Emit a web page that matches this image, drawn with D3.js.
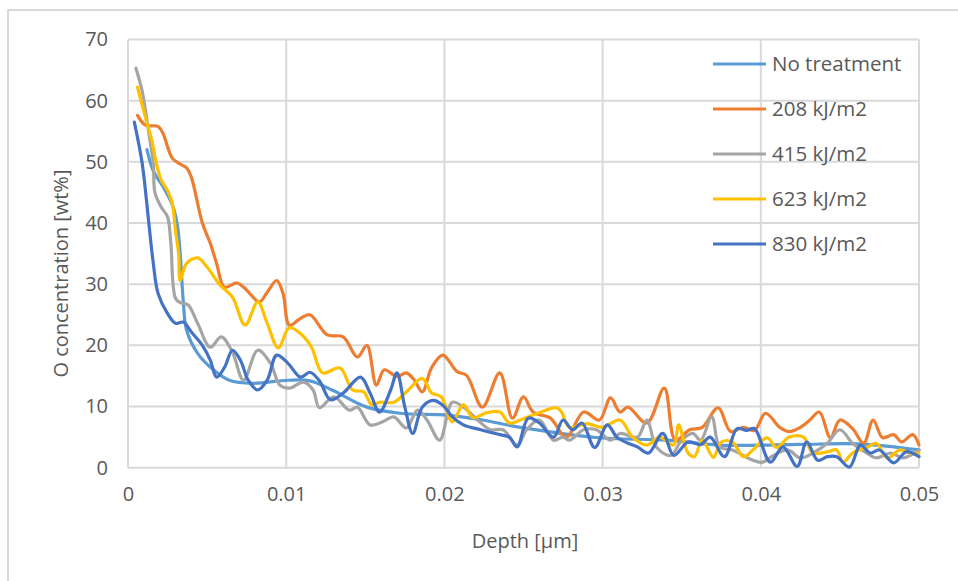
<!DOCTYPE html>
<html>
<head>
<meta charset="utf-8">
<script src="https://cdn.jsdelivr.net/npm/d3@7/dist/d3.min.js"></script>
<style>
  html, body { margin: 0; padding: 0; background: #fff; }
  svg { display: block; }
  text { font-family: "Open Sans", "Liberation Sans", sans-serif; fill: #595959; }
</style>
</head>
<body>
<svg id="chart" width="958" height="581"></svg>
<script>
// Oxygen depth profiles, one [depth µm, wt%] list per treatment dose
const seriesNames = ["No treatment", "208 kJ/m2", "415 kJ/m2", "623 kJ/m2", "830 kJ/m2"];
const seriesColors = ["#5B9BD5", "#ED7D31", "#A5A5A5", "#FFC000", "#4472C4"];

const noTreatment = [
  [0.0012,52],[0.0016,48.5],[0.0022,46],[0.0028,43],[0.0031,40],[0.0033,35],[0.0035,27],
  [0.0037,22.5],[0.0044,18.7],[0.0054,16],[0.0064,14.3],[0.0079,13.8],[0.0101,14.3],
  [0.0115,14.2],[0.0129,12.7],[0.0151,9.9],[0.0172,8.9],[0.0202,8.6],[0.0224,7.8],
  [0.0248,6.6],[0.0298,4.9],[0.0340,4.5],[0.0374,3.7],[0.0425,3.8],[0.0462,3.9],[0.05,2.9]
];

const dose208 = [
  [0.0006,57.6],[0.0011,56],[0.0019,55.8],[0.0022,54.7],[0.0028,50.6],[0.0032,49.8],
  [0.0037,49],[0.0040,47.5],[0.0047,40],[0.0052,36.7],[0.0056,33.4],[0.0061,29.5],
  [0.0069,30.2],[0.0074,29.3],[0.0083,27.1],[0.0088,28.7],[0.0094,30.6],[0.0098,28.5],
  [0.0102,23.3],[0.0109,24.4],[0.0115,25],[0.0126,21.7],[0.0136,21.4],[0.0145,18.1],
  [0.0151,20],[0.0157,13.5],[0.0162,16],[0.0170,14.9],[0.0176,15.5],[0.0181,14.3],
  [0.0186,12.4],[0.0192,16.4],[0.0199,18.4],[0.0208,15.7],[0.0214,15.1],[0.0224,9.9],
  [0.0235,15.5],[0.0243,8.1],[0.0250,11.6],[0.0256,9.1],[0.0267,8.1],[0.0277,5],
  [0.0288,9.1],[0.0298,7.8],[0.0305,11.4],[0.0311,9.1],[0.0316,9.9],[0.0328,7.3],
  [0.0339,13],[0.0346,4.5],[0.0355,6.2],[0.0363,6.6],[0.0373,9.8],[0.0381,5.9],
  [0.0389,6.6],[0.0396,6.1],[0.0403,8.9],[0.0412,6.6],[0.0418,5.9],[0.0425,6.6],
  [0.0431,7.8],[0.0437,9.1],[0.0444,4.9],[0.0450,7.8],[0.0458,6.4],[0.0465,4],
  [0.0471,7.8],[0.0477,4.9],[0.0484,5.4],[0.0489,4.2],[0.0496,5.4],[0.0500,3.7]
];

const dose415 = [
  [0.0005,65.3],[0.0009,61.5],[0.0013,55],[0.0016,49.7],[0.0017,45],[0.0021,42.6],
  [0.0025,41],[0.0027,37],[0.0030,27.7],[0.0033,27],[0.0038,26.6],[0.0044,23.6],
  [0.0052,19.7],[0.0059,21.4],[0.0066,18.9],[0.0073,14.3],[0.0082,19.2],[0.0090,17.1],
  [0.0096,13.5],[0.0102,13],[0.0111,14],[0.0117,12.7],[0.0121,9.8],[0.0130,11.6],
  [0.0140,9.4],[0.0145,9.9],[0.0153,7],[0.0161,7.5],[0.0168,8.3],[0.0176,6.5],
  [0.0183,9.4],[0.0189,7.8],[0.0197,4.5],[0.0205,10.7],[0.0212,9.9],[0.0221,7.8],
  [0.0229,6.2],[0.0237,6.2],[0.0246,3.7],[0.0252,6.2],[0.0260,7.8],[0.0269,4.5],
  [0.0275,5],[0.0279,4.5],[0.0288,6.2],[0.0296,6.2],[0.0305,4.5],[0.0311,5.6],
  [0.0322,5],[0.0328,7.8],[0.0334,3.4],[0.0343,2],[0.0350,4.5],[0.0357,5.6],
  [0.0362,4.5],[0.0369,8.3],[0.0374,3.4],[0.0382,2.9],[0.0395,1.2],[0.0401,0.9],
  [0.0408,2],[0.0417,2.9],[0.0425,1.6],[0.0433,2.4],[0.0442,4],[0.0450,6.2],
  [0.0458,4],[0.0467,2.4],[0.0473,1.6],[0.0482,2.4],[0.0490,1.6],[0.0500,2.9]
];

const dose623 = [
  [0.0006,62.2],[0.0011,57.3],[0.0015,53.5],[0.0018,49.7],[0.0021,47],[0.0025,45.3],
  [0.0028,43.2],[0.0030,38.8],[0.0032,35],[0.0033,30.6],[0.0037,33.4],[0.0044,34.3],
  [0.0050,32.8],[0.0058,29.9],[0.0066,27.9],[0.0074,23.3],[0.0082,27.1],[0.0088,23.6],
  [0.0095,19.6],[0.0102,22.9],[0.0110,21.7],[0.0116,19.7],[0.0123,15.5],[0.0134,16.3],
  [0.0142,12.7],[0.0149,12.4],[0.0154,10.3],[0.0159,10.7],[0.0168,10.7],[0.0176,12.4],
  [0.0186,14.6],[0.0192,12.2],[0.0198,11.6],[0.0205,7.5],[0.0212,10.3],[0.0218,8.2],
  [0.0227,9],[0.0235,9.1],[0.0241,7.3],[0.0248,7.8],[0.0259,8.9],[0.0271,9.8],
  [0.0274,9.1],[0.0279,6.6],[0.0290,7.2],[0.0300,6.6],[0.0311,7.8],[0.0319,5],
  [0.0328,3.7],[0.0336,5],[0.0345,3.7],[0.0348,7],[0.0354,2.4],[0.0358,1.8],
  [0.0363,4.5],[0.0370,1.7],[0.0375,4.2],[0.0382,4.2],[0.0389,1.8],[0.0395,2.9],
  [0.0404,4.9],[0.0410,3.3],[0.0418,5],[0.0427,5],[0.0433,2.4],[0.0442,2.6],
  [0.0448,2.9],[0.0452,0.9],[0.0458,2.4],[0.0467,3.3],[0.0473,4],[0.0480,1.6],
  [0.0488,2.9],[0.0494,2.4],[0.0500,2.4]
];

const dose830 = [
  [0.0004,56.5],[0.0009,49.7],[0.0013,40.4],[0.0016,33.4],[0.0019,28.5],[0.0025,25.2],
  [0.0030,23.6],[0.0035,23.8],[0.0040,22.2],[0.0047,20],[0.0052,17.6],[0.0056,14.8],
  [0.0061,16.4],[0.0066,19.2],[0.0071,17.6],[0.0076,14.3],[0.0082,12.7],[0.0088,14.3],
  [0.0094,18.4],[0.0101,17.1],[0.0109,14.8],[0.0115,15.6],[0.0121,14.2],[0.0128,11.1],
  [0.0136,12.2],[0.0147,14.8],[0.0153,12.2],[0.0159,9.1],[0.0166,12.7],[0.0170,15.5],
  [0.0175,9.9],[0.0180,5.6],[0.0186,9.9],[0.0193,11],[0.0199,10.2],[0.0205,8.3],
  [0.0212,7],[0.0223,6.2],[0.0235,5.4],[0.0241,5],[0.0246,3.4],[0.0253,8.1],
  [0.0260,7.3],[0.0269,5],[0.0275,7.8],[0.0281,6.2],[0.0287,7.3],[0.0295,3.3],
  [0.0303,7],[0.0309,5],[0.0316,4],[0.0322,3.4],[0.0329,2.4],[0.0338,5.6],
  [0.0345,2],[0.0354,4.2],[0.0362,3.8],[0.0368,5],[0.0377,1.8],[0.0385,6.4],
  [0.0391,6.1],[0.0396,6.4],[0.0406,0.9],[0.0414,3.4],[0.0423,0.2],[0.0429,4.2],
  [0.0436,1.2],[0.0442,1.8],[0.0448,1.8],[0.0456,0.1],[0.0463,3.7],[0.0469,2.4],
  [0.0475,2.9],[0.0484,0.8],[0.0492,2.6],[0.0500,1.8]
];

const xTicks = [0, 0.01, 0.02, 0.03, 0.04, 0.05];
const yTicks = [0, 10, 20, 30, 40, 50, 60, 70];
const seriesData = [noTreatment, dose208, dose415, dose623, dose830];

const svg = d3.select("#chart");
const plot = { left: 128, right: 919, top: 39.5, bottom: 467.7 };

const x = d3.scaleLinear().domain([0, 0.05]).range([plot.left, plot.right]);
const y = d3.scaleLinear().domain([0, 70]).range([plot.bottom, plot.top]);

// chart frame
svg.append("path")
  .attr("d", `M8,581 V10 H958`)
  .attr("fill", "none")
  .attr("stroke", "#d9d9d9")
  .attr("stroke-width", 2);

// gridlines
const grid = svg.append("g").attr("stroke", "#d9d9d9").attr("stroke-width", 2);
grid.selectAll("line.h").data(yTicks).join("line")
  .attr("x1", plot.left).attr("x2", plot.right)
  .attr("y1", d => y(d)).attr("y2", d => y(d));
grid.selectAll("line.v").data(xTicks).join("line")
  .attr("y1", plot.top).attr("y2", plot.bottom)
  .attr("x1", d => x(d)).attr("x2", d => x(d));

// tick labels via d3 axes (domain and tick marks hidden)
const yAxis = svg.append("g")
  .attr("transform", `translate(${plot.left},0)`)
  .call(d3.axisLeft(y).tickValues(yTicks).tickSize(0).tickPadding(20).tickFormat(d3.format("d")));
const xAxis = svg.append("g")
  .attr("transform", `translate(0,${plot.bottom})`)
  .call(d3.axisBottom(x).tickValues(xTicks).tickSize(0).tickPadding(27)
    .tickFormat(d => d === 0 ? "0" : d3.format(".2f")(d)));
[yAxis, xAxis].forEach(a => {
  a.select(".domain").remove();
  a.selectAll("text")
    .attr("fill", "#595959")
    .style("font-family", '"Open Sans", sans-serif')
    .style("font-size", "20px");
});
xAxis.selectAll("text").attr("dy", "0.3em");

// axis titles
svg.append("text")
  .attr("transform", `translate(68,${(plot.top + plot.bottom) / 2 + 20}) rotate(-90)`)
  .attr("text-anchor", "middle")
  .style("font-size", "20px")
  .text("O concentration [wt%]");
svg.append("text")
  .attr("x", 525).attr("y", 548)
  .attr("text-anchor", "middle")
  .style("font-size", "20px")
  .text("Depth [µm]");

// series lines
const line = d3.line()
  .x(d => x(d[0]))
  .y(d => y(d[1]))
  .curve(d3.curveCatmullRom.alpha(0.5));

svg.append("g")
  .selectAll("path")
  .data(seriesData)
  .join("path")
  .attr("d", line)
  .attr("fill", "none")
  .attr("stroke", (d, i) => seriesColors[i])
  .attr("stroke-width", 3.2)
  .attr("stroke-linejoin", "round")
  .attr("stroke-linecap", "round");

// legend
const legend = svg.append("g").attr("transform", "translate(713,64)");
const item = legend.selectAll("g").data(seriesNames).join("g")
  .attr("transform", (d, i) => `translate(0,${i * 45})`);
item.append("line")
  .attr("x1", 0).attr("x2", 53)
  .attr("stroke", (d, i) => seriesColors[i])
  .attr("stroke-width", 3.2);
item.append("text")
  .attr("x", 59).attr("dy", "0.35em")
  .style("font-size", "20.5px")
  .text(d => d);
</script>
</body>
</html>
